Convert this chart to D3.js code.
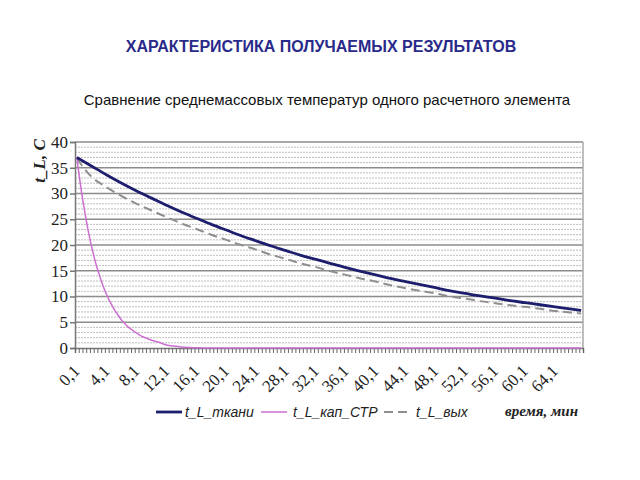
<!DOCTYPE html>
<html><head><meta charset="utf-8">
<script src="https://cdn.jsdelivr.net/npm/d3@7"></script>
<style>body{margin:0;background:#fff}svg{display:block}</style>
</head><body>
<svg id="c" width="640" height="480"></svg>
<script>
const titleText = "ХАРАКТЕРИСТИКА ПОЛУЧАЕМЫХ РЕЗУЛЬТАТОВ";
const subtitleText = "Сравнение среднемассовых температур одного расчетного элемента";
const seriesNames = ["t_L_ткани", "t_L_кап_СТР", "t_L_вых"];
const xLabelTimes = [0.1,4.1,8.1,12.1,16.1,20.1,24.1,28.1,32.1,36.1,40.1,44.1,48.1,52.1,56.1,60.1,64.1];
const xLabels = ["0,1","4,1","8,1","12,1","16,1","20,1","24,1","28,1","32,1","36,1","40,1","44,1","48,1","52,1","56,1","60,1","64,1"];
const yTicks = [0,5,10,15,20,25,30,35,40];
const timeMain = [0.1,2.1,4.1,6.1,8.1,10.1,12.1,14.1,16.1,18.1,20.1,22.1,24.1,26.1,28.1,30.1,32.1,34.1,36.1,38.1,40.1,42.1,44.1,46.1,48.1,50.1,52.1,54.1,56.1,58.1,60.1,62.1,64.1,66.1,67.6];
const tkani = [37.0,35.3,33.6,32.0,30.5,29.1,27.7,26.4,25.2,24.0,22.9,21.8,20.8,19.8,18.9,18.0,17.2,16.4,15.6,14.9,14.2,13.5,12.9,12.3,11.7,11.1,10.6,10.1,9.7,9.2,8.8,8.4,8.0,7.6,7.3];
const vyh = [36.8,33.2,31.2,29.5,28.0,26.7,25.4,24.2,23.1,22.0,21.0,20.0,19.1,18.1,17.3,16.4,15.7,14.9,14.2,13.5,12.9,12.2,11.6,11.1,10.6,10.0,9.6,9.1,8.7,8.3,8.0,7.6,7.2,6.9,6.7];
const timeKap = [0.1,0.6,1.1,1.6,2.1,2.6,3.1,3.6,4.1,4.6,5.1,5.6,6.1,6.6,7.1,7.6,8.1,8.6,9.1,9.6,10.1,11.1,12.1,13.1,14.1,15.1,16.1,17.1,20.1,30.1,40.1,50.1,60.1,67.6];
const kapStr = [37.0,31.5,26.9,22.9,19.5,16.6,14.2,12.1,10.3,8.8,7.5,6.4,5.4,4.6,3.9,3.4,2.9,2.4,2.1,1.8,1.5,1.1,0.6,0.4,0.2,0.1,0.05,0,0,0,0,0,0,0];

const svg = d3.select("#c");
const L = 75, R = 583, T = 142, B = 348;
const x = d3.scaleLinear().domain([-0.15, 67.85]).range([L, R]);
const y = d3.scaleLinear().domain([0, 40]).range([B, T]);

svg.append("text").attr("x", 321).attr("y", 52).attr("text-anchor", "middle")
  .attr("font-family", "Liberation Sans, Arial, sans-serif").attr("font-weight", "bold")
  .attr("font-size", 16).attr("fill", "#2a2a8a").text(titleText);
svg.append("text").attr("x", 327).attr("y", 105).attr("text-anchor", "middle")
  .attr("font-family", "Liberation Sans, Arial, sans-serif")
  .attr("font-size", 15).attr("fill", "#111").text(subtitleText);

// grid
const g = svg.append("g");
g.selectAll("line.minor").data(d3.range(1, 40).filter(v => v % 5 !== 0)).join("line")
  .attr("x1", L).attr("x2", R).attr("y1", d => y(d)).attr("y2", d => y(d))
  .attr("stroke", "#bdbdbd").attr("stroke-width", 1).attr("stroke-dasharray", "2,1");
g.selectAll("line.major").data(yTicks.slice(1)).join("line")
  .attr("x1", L).attr("x2", R).attr("y1", d => y(d)).attr("y2", d => y(d))
  .attr("stroke", "#8c8c8c").attr("stroke-width", 1.6);
g.append("line").attr("x1", R).attr("x2", R).attr("y1", T).attr("y2", B).attr("stroke", "#aaa").attr("stroke-width", 1.5);

// y axis
const yAxis = d3.axisLeft(y).tickValues(yTicks).tickSize(5).tickFormat(d3.format("d"));
const ya = svg.append("g").attr("transform", `translate(${L},0)`).call(yAxis);
ya.select(".domain").attr("stroke", "#777").attr("stroke-width", 1.5);
ya.selectAll(".tick line").attr("stroke", "#777").attr("stroke-width", 1.5);
ya.selectAll("text").attr("font-family", "Liberation Serif, Times New Roman, serif").attr("font-size", 17).attr("fill", "#222").attr("x", -7);

// x axis with ticks at category boundaries
const tickPos = d3.range(0, 137).map(i => -0.15 + 0.5 * i);
const xAxis = d3.axisBottom(x).tickValues(tickPos).tickSize(5).tickFormat("");
const xa = svg.append("g").attr("transform", `translate(0,${B})`).call(xAxis);
xa.select(".domain").attr("stroke", "#777").attr("stroke-width", 1.5);
xa.selectAll(".tick line").attr("stroke", "#666");

svg.append("g").selectAll("text").data(xLabelTimes).join("text")
  .attr("transform", d => `translate(${x(d) + 4},${B + 24}) rotate(-45)`)
  .attr("text-anchor", "end").attr("font-family", "Liberation Serif, Times New Roman, serif")
  .attr("font-size", 17).attr("fill", "#222").text((d, i) => xLabels[i]);

// y axis title
svg.append("text").attr("transform", "translate(45,161) rotate(-90)").attr("text-anchor", "middle")
  .attr("font-family", "Liberation Serif, Times New Roman, serif").attr("font-weight", "bold").attr("font-style", "italic")
  .attr("font-size", 17).attr("fill", "#222").text("t_L, C");

// lines
const line = d3.line().x(d => x(d[0])).y(d => y(d[1])).curve(d3.curveMonotoneX);
svg.append("path").datum(timeMain.map((t, i) => [t, vyh[i]])).attr("d", line)
  .attr("fill", "none").attr("stroke", "#8f8f8f").attr("stroke-width", 2).attr("stroke-dasharray", "9,5");
svg.append("path").datum(timeKap.map((t, i) => [t, kapStr[i]])).attr("d", line)
  .attr("fill", "none").attr("stroke", "#cc6fd0").attr("stroke-width", 1.5);
svg.append("path").datum(timeMain.map((t, i) => [t, tkani[i]])).attr("d", line)
  .attr("fill", "none").attr("stroke", "#1e1e6e").attr("stroke-width", 2.8);

// legend
const lg = svg.append("g").attr("font-family", "Liberation Sans, Arial, sans-serif").attr("font-style", "italic").attr("font-size", 14).attr("fill", "#222");
const legItems = [
  {x: 156, tx: 185, color: "#1e1e6e", w: 2.8, dash: null},
  {x: 261, tx: 293, color: "#cc6fd0", w: 1.5, dash: null},
  {x: 384, tx: 416, color: "#8f8f8f", w: 2, dash: "9,5"}
];
legItems.forEach((it, i) => {
  lg.append("line").attr("x1", it.x).attr("x2", it.x + 26).attr("y1", 412).attr("y2", 412)
    .attr("stroke", it.color).attr("stroke-width", it.w).attr("stroke-dasharray", it.dash);
  lg.append("text").attr("x", it.tx).attr("y", 417).text(seriesNames[i]);
});
svg.append("text").attr("x", 578).attr("y", 416).attr("text-anchor", "end")
  .attr("font-family", "Liberation Serif, Times New Roman, serif").attr("font-weight", "bold").attr("font-style", "italic")
  .attr("font-size", 15).attr("fill", "#222").text("время, мин");
</script>
</body></html>
